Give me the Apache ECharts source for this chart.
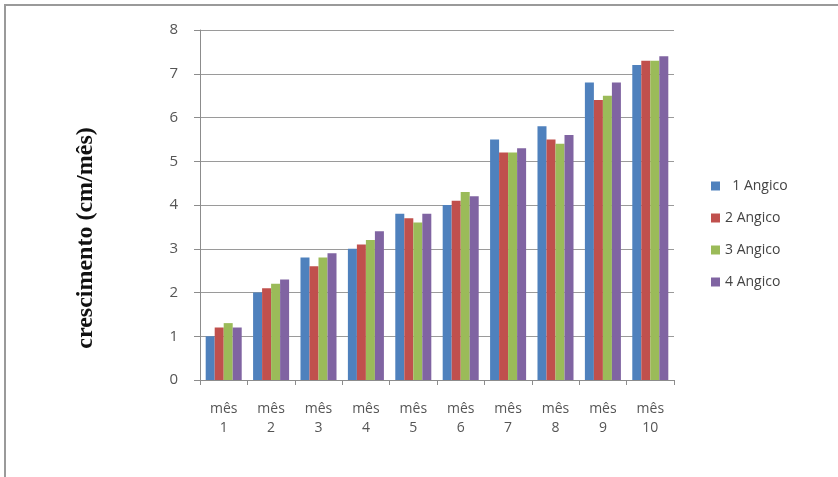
<!DOCTYPE html>
<html>
<head>
<meta charset="utf-8">
<style>
  html, body { margin: 0; padding: 0; background: #fff; }
  #chart { width: 838px; height: 477px; }
</style>
<script src="https://cdn.jsdelivr.net/npm/echarts@6/dist/echarts.min.js"></script>
</head>
<body>
<div id="chart"></div>
<script>
// Monthly growth of four Angico plants (cm/month)
var months = ['mês\n1', 'mês\n2', 'mês\n3', 'mês\n4', 'mês\n5', 'mês\n6', 'mês\n7', 'mês\n8', 'mês\n9', 'mês\n10'];
var seriesNames = ['  1 Angico', '2 Angico', '3 Angico', '4 Angico'];
var angico1 = [1.0, 2.0, 2.8, 3.0, 3.8, 4.0, 5.5, 5.8, 6.8, 7.2];
var angico2 = [1.2, 2.1, 2.6, 3.1, 3.7, 4.1, 5.2, 5.5, 6.4, 7.3];
var angico3 = [1.3, 2.2, 2.8, 3.2, 3.6, 4.3, 5.2, 5.4, 6.5, 7.3];
var angico4 = [1.2, 2.3, 2.9, 3.4, 3.8, 4.2, 5.3, 5.6, 6.8, 7.4];
var yTicks = [0, 1, 2, 3, 4, 5, 6, 7, 8];
var yTitle = 'crescimento (cm/mês)';

var colors = ['#4F81BD', '#C0504D', '#9BBB59', '#8064A2'];
var values = [angico1, angico2, angico3, angico4];

var chart = echarts.init(document.getElementById('chart'));
chart.setOption({
  animation: false,
  color: colors,
  graphic: [{
    type: 'rect',
    shape: { x: 5, y: 5, width: 900, height: 600 },
    style: { fill: 'none', stroke: '#9a9a9a', lineWidth: 2 },
    silent: true
  }, {
    type: 'text',
    x: 86,
    y: 238,
    rotation: Math.PI / 2,
    style: {
      text: yTitle,
      font: 'bold 24px "Liberation Serif"',
      fill: '#111',
      textAlign: 'center',
      textVerticalAlign: 'middle'
    },
    silent: true
  }],
  grid: { left: 200, right: 164, top: 30, bottom: 97 },
  legend: {
    orient: 'vertical',
    left: 706,
    top: 174,
    itemWidth: 9,
    itemHeight: 9,
    itemGap: 18,
    icon: 'rect',
    textStyle: { fontFamily: 'Open Sans', fontSize: 14, color: '#444' },
    data: seriesNames
  },
  xAxis: {
    type: 'category',
    data: months,
    axisLine: { show: true, lineStyle: { color: '#8c8c8c' } },
    axisTick: { show: true, length: 5, lineStyle: { color: '#8c8c8c' } },
    axisLabel: { fontFamily: 'Open Sans', fontSize: 14, color: '#555', lineHeight: 19, margin: 20 }
  },
  yAxis: {
    type: 'value',
    min: yTicks[0],
    max: yTicks[yTicks.length - 1],
    interval: 1,
    axisLine: { show: true, lineStyle: { color: '#8c8c8c' } },
    axisTick: { show: true, length: 6, lineStyle: { color: '#8c8c8c' } },
    axisLabel: { fontFamily: 'Open Sans', fontSize: 15, color: '#555', margin: 22 },
    splitLine: { show: true, lineStyle: { color: '#9a9a9a' } }
  },
  series: seriesNames.map(function (name, i) {
    return {
      name: name,
      type: 'bar',
      data: values[i],
      barGap: '0%',
      barCategoryGap: '24%'
    };
  })
});
</script>
</body>
</html>
